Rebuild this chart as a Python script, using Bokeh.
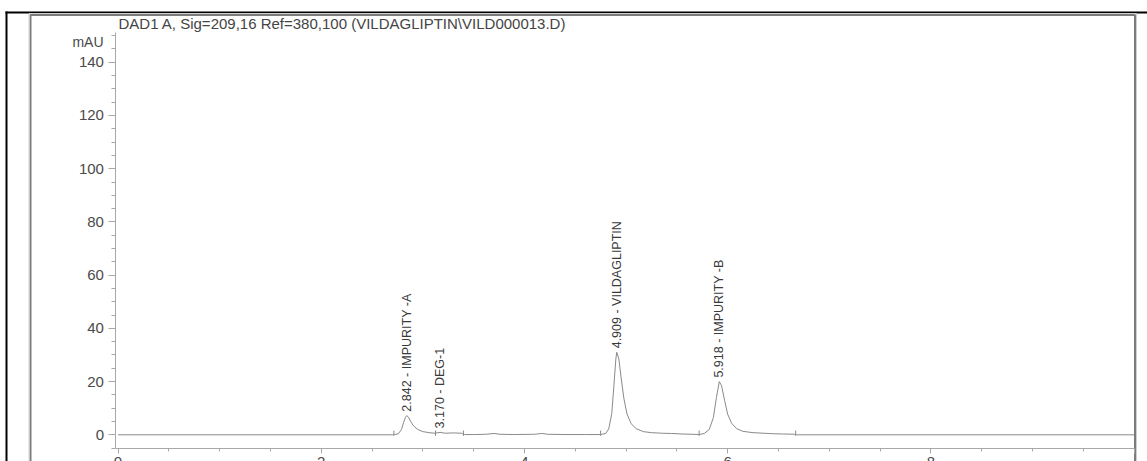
from bokeh.plotting import figure
from bokeh.models import Range1d, LinearAxis, SingleIntervalTicker, ColumnDataSource
from bokeh.core.properties import value
from bokeh.embed import file_html
from bokeh.resources import INLINE

FONT = "Liberation Sans"

title_text = "DAD1 A, Sig=209,16 Ref=380,100 (VILDAGLIPTIN\\VILD000013.D)"
y_unit = "mAU"
x_unit = "min"

# Detector trace (retention time in min, absorbance in mAU)
trace_time = [0.0, 2.70, 2.72, 2.76, 2.79, 2.81, 2.83, 2.842, 2.86, 2.88, 2.91, 2.95,
              3.00, 3.06, 3.12, 3.17, 3.22, 3.30, 3.38, 3.41, 3.50, 3.62, 3.70, 3.76,
              3.90, 4.10, 4.17, 4.23, 4.40, 4.60, 4.75, 4.80, 4.83, 4.86, 4.88, 4.90,
              4.909, 4.93, 4.95, 4.98, 5.01, 5.05, 5.10, 5.17, 5.25, 5.35, 5.45, 5.55,
              5.65, 5.72, 5.77, 5.82, 5.86, 5.89, 5.918, 5.94, 5.97, 6.00, 6.04, 6.09,
              6.15, 6.25, 6.35, 6.45, 6.55, 6.67, 6.68, 10.0]
trace_mau = [0.0, 0.0, 0.1, 0.4, 2.0, 4.5, 6.6, 7.2, 6.6, 5.0, 3.3, 2.0,
             1.2, 0.8, 0.6, 0.9, 0.6, 0.7, 0.6, 0.1, 0.1, 0.2, 0.5, 0.2,
             0.1, 0.2, 0.5, 0.2, 0.1, 0.1, 0.1, 0.5, 2.2, 8.0, 18.0, 28.5,
             31.0, 28.5, 22.0, 13.5, 7.8, 4.2, 2.3, 1.2, 0.8, 0.6, 0.5, 0.3,
             0.2, 0.1, 0.5, 2.0, 6.5, 14.0, 20.0, 18.5, 13.0, 7.8, 4.3, 2.3,
             1.3, 0.8, 0.6, 0.4, 0.3, 0.2, 0.0, 0.0]

# Integrated peaks
peak_rt = [2.842, 3.170, 4.909, 5.918]
peak_height = [7.2, 0.9, 31.0, 20.0]
peak_name = ["IMPURITY -A", "DEG-1", "VILDAGLIPTIN", "IMPURITY -B"]

# Integration event marks on the baseline
event_time = [2.715, 3.125, 3.40, 4.75, 5.72, 6.67]

# ---- figure: the frame covers the whole canvas, axes sit at fixed data locations
W, H = 1147, 461
X0_PX, X_SCALE = 117.5, 101.6      # pixel of t=0, pixels per minute
Y0_PX, Y_SCALE = 434.3, 2.661      # pixel of 0 mAU, pixels per mAU

p = figure(width=W, height=H,
           x_range=Range1d(-X0_PX / X_SCALE, (W - X0_PX) / X_SCALE),
           y_range=Range1d((Y0_PX - H) / Y_SCALE, Y0_PX / Y_SCALE),
           x_axis_type=None, y_axis_type=None,
           output_backend="svg", toolbar_location=None, min_border=0)
p.outline_line_color = None
p.background_fill_color = "white"
p.border_fill_color = "white"

# pixel-space ranges for the page decorations
p.extra_x_ranges = {"px": Range1d(0, W)}
p.extra_y_ranges = {"px": Range1d(H, 0)}

axis_color = "#a8a8a8"
label_color = "#4a4a4a"

xaxis = LinearAxis(fixed_location=-5, bounds=(-0.02, 10),
                   ticker=SingleIntervalTicker(interval=2, num_minor_ticks=4),
                   major_label_overrides={10: ""})
yaxis = LinearAxis(fixed_location=-0.02, bounds=(-5, 151),
                   ticker=SingleIntervalTicker(interval=20, num_minor_ticks=4))
for ax in (xaxis, yaxis):
    ax.axis_line_color = axis_color
    ax.major_tick_line_color = axis_color
    ax.minor_tick_line_color = axis_color
    ax.major_tick_in = 0
    ax.minor_tick_in = 0
    ax.major_label_text_font = FONT
    ax.major_label_text_font_size = "15px"
    ax.major_label_text_color = label_color
xaxis.major_tick_out = 5
xaxis.minor_tick_out = 3
xaxis.major_label_standoff = 4
yaxis.major_tick_out = 7
yaxis.minor_tick_out = 4
yaxis.major_label_standoff = 5
p.add_layout(xaxis, "below")
p.add_layout(yaxis, "left")

# chromatogram
p.line(trace_time, trace_mau, line_color="#8a8a8a", line_width=1)

# integration event ticks
p.segment(x0=event_time, y0=[-0.4] * len(event_time),
          x1=event_time, y1=[1.6] * len(event_time),
          line_color="#8a8a8a", line_width=1)

# peak annotations, written upwards from each apex
labels = ColumnDataSource(dict(
    x=peak_rt, y=peak_height,
    text=[f"{rt:.3f} - {name}" for rt, name in zip(peak_rt, peak_name)]))
p.text(x="x", y="y", text="text", source=labels, angle=1.5708,
       text_align="left", text_baseline="middle", y_offset=-4,
       text_font=value(FONT), text_font_size="12.5px", text_color="#3a3a3a")

# page frame
p.line([6, 6], [11, H], x_range_name="px", y_range_name="px",
       line_color="black", line_width=2)
p.line([5, W], [12, 12], x_range_name="px", y_range_name="px",
       line_color="black", line_width=2)
p.line([30, 30, 1134.5, 1134.5], [H, 14.5, 14.5, H], x_range_name="px",
       y_range_name="px", line_color="#7c7c7c", line_width=2)
p.line([28.5, 28.5, 1136, 1136], [H, 13, 13, H], x_range_name="px",
       y_range_name="px", line_color="#cfcfcf", line_width=1)

# header texts
p.text(x=[118], y=[22.5], text=[title_text], x_range_name="px", y_range_name="px",
       text_align="left", text_baseline="middle",
       text_font=value(FONT), text_font_size="15px", text_color="#444444")
p.text(x=[103], y=[41], text=[y_unit], x_range_name="px", y_range_name="px",
       text_align="right", text_baseline="middle",
       text_font=value(FONT), text_font_size="14px", text_color=label_color)
p.text(x=[1113], y=[457], text=[x_unit], x_range_name="px", y_range_name="px",
       text_align="left", text_baseline="top",
       text_font=value(FONT), text_font_size="15px", text_color=label_color)

open("out.html", "w").write(file_html(p, INLINE))
